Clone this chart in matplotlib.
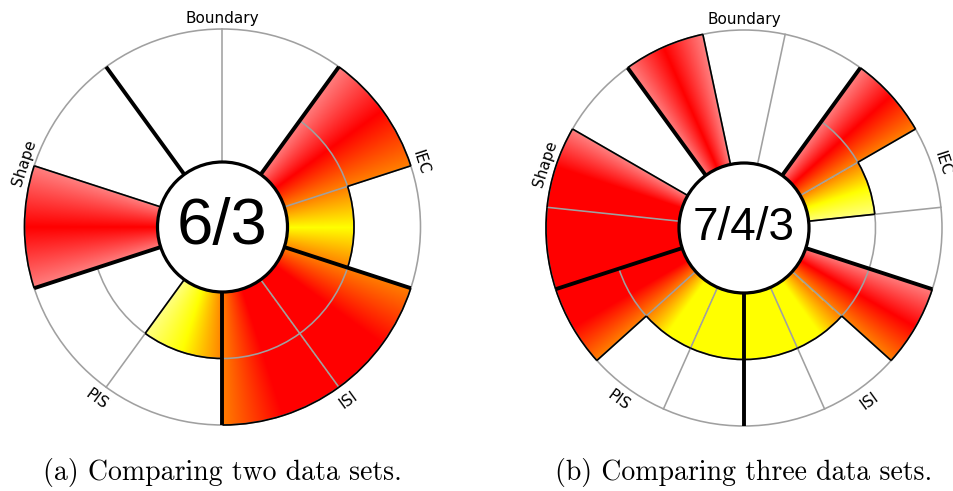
import numpy as np
import matplotlib
matplotlib.use("Agg")
import matplotlib.pyplot as plt
from matplotlib.patches import Wedge, Arc, Circle

# categories clockwise from the top, and how many levels each one has
categories = ["Boundary", "IEC", "ISI", "PIS", "Shape"]
max_levels = [1, 2, 2, 2, 1]

# one row per category, one entry per data set (clockwise inside the category)
two_sets = [[0, 0], [2, 1], [2, 2], [1, 0], [1, 0]]
three_sets = [[1, 0, 0], [2, 1, 0], [2, 1, 1], [1, 1, 2], [1, 1, 0]]

captions = ["(a) Comparing two data sets.", "(b) Comparing three data sets."]

R_HUB, R_OUT = 65, 198
GRID = "#a0a0a0"
RED = np.array([1.0, 0.0, 0.0])
YELLOW = np.array([1.0, 1.0, 0.0])
WHITE = np.array([1.0, 1.0, 1.0])


def fill_colour(v, m):
    if v == 0:
        return WHITE
    frac = v / m
    w = np.clip((frac - 0.5) / 0.5, 0, 1)
    return YELLOW * (1 - w) + RED * w


def radius(v, m):
    return R_HUB + (R_OUT - R_HUB) * v / m


def draw_rose(ax, cx, cy, values, hub_size):
    n_cat = len(categories)
    n_set = len(values[0])
    span = 360 / n_cat
    step = span / n_set

    wedges = []  # (theta_hi, theta_lo, value, max)
    for i, row in enumerate(values):
        start = 90 + span / 2 - i * span
        for j, v in enumerate(row):
            hi = start - j * step
            wedges.append((hi, hi - step, v, max_levels[i]))

    # gradient fills, blended towards the neighbouring sub-wedges at the edges
    nw = len(wedges)
    for k, (hi, lo, v, m) in enumerate(wedges):
        if v == 0:
            continue
        c = fill_colour(v, m)
        c_prev = fill_colour(*wedges[k - 1][2:])
        c_next = fill_colour(*wedges[(k + 1) % nw][2:])
        stops = np.array([(c + c_prev) / 2, c, (c + c_next) / 2])
        r = radius(v, m)
        n = int(2 * r) + 2
        xs = np.linspace(cx - r, cx + r, n)
        ys = np.linspace(cy - r, cy + r, n)
        X, Y = np.meshgrid(xs, ys)
        ang = np.degrees(np.arctan2(Y - cy, X - cx))
        t = np.clip(((hi - ang) % 360) / step, 0, 1)
        img = np.dstack([np.interp(t, [0, 0.5, 1], stops[:, ch]) for ch in range(3)])
        patch = Wedge((cx, cy), r, lo, hi, fc="none", ec="none")
        ax.add_patch(patch)
        im = ax.imshow(img, extent=[cx - r, cx + r, cy - r, cy + r], origin="lower",
                       interpolation="bilinear", zorder=1)
        im.set_clip_path(patch)

    # grey grid: outer ring, inner level rings, sub-wedge spokes
    ax.add_patch(Circle((cx, cy), R_OUT, fill=False, ec=GRID, lw=1.15, zorder=2))
    for i, m in enumerate(max_levels):
        hi = 90 + span / 2 - i * span
        for k in range(1, m):
            r = radius(k, m)
            ax.add_patch(Arc((cx, cy), 2 * r, 2 * r, theta1=hi - span, theta2=hi,
                             ec=GRID, lw=1.15, zorder=2))
        for j in range(1, n_set):
            a = np.radians(hi - j * step)
            ax.plot([cx + R_HUB * np.cos(a), cx + R_OUT * np.cos(a)],
                    [cy + R_HUB * np.sin(a), cy + R_OUT * np.sin(a)],
                    color=GRID, lw=1.15, zorder=2)

    # thin black outlines of the filled area
    for k, (hi, lo, v, m) in enumerate(wedges):
        r = radius(v, m)
        if v > 0:
            ax.add_patch(Arc((cx, cy), 2 * r, 2 * r, theta1=lo, theta2=hi,
                             ec="black", lw=1.2, zorder=3))
        nxt = wedges[(k + 1) % nw]
        r2 = radius(nxt[2], nxt[3])
        if r2 != r:
            a = np.radians(lo)
            r_a, r_b = min(r, r2), max(r, r2)
            ax.plot([cx + r_a * np.cos(a), cx + r_b * np.cos(a)],
                    [cy + r_a * np.sin(a), cy + r_b * np.sin(a)],
                    color="black", lw=1.2, zorder=3, solid_capstyle="butt")

    # thick category separators and labels
    for i, name in enumerate(categories):
        a = np.radians(90 + span / 2 - i * span)
        ax.plot([cx + R_HUB * np.cos(a), cx + R_OUT * np.cos(a)],
                [cy + R_HUB * np.sin(a), cy + R_OUT * np.sin(a)],
                color="black", lw=2.8, zorder=4, solid_capstyle="butt")
        mid = 90 - i * span
        am = np.radians(mid)
        if np.sin(am) > -0.01:
            rot, va, rl = mid - 90, "baseline", 204
        else:
            rot, va, rl = mid + 90, "top", 206
        ax.text(cx + rl * np.cos(am), cy + rl * np.sin(am), name, rotation=rot,
                rotation_mode="anchor", ha="center", va=va, fontsize=11,
                family="DejaVu Sans", zorder=6)

    # hub with the per-data-set totals
    ax.add_patch(Circle((cx, cy), R_HUB, fc="white", ec="black", lw=2.3, zorder=5))
    totals = np.sum(values, axis=0)
    ax.text(cx, cy, "/".join(str(t) for t in totals), ha="center", va="center",
            fontsize=hub_size, family="Liberation Sans", zorder=6)


fig = plt.figure(figsize=(9.54, 4.91), dpi=100)
ax = fig.add_axes([0, 0, 1, 1])

draw_rose(ax, 222.5, 491 - 227, two_sets, 47)
draw_rose(ax, 744, 491 - 228, three_sets, 33)

ax.text(222.5, 11, captions[0], ha="center", va="baseline", fontsize=20, family="cmr10")
ax.text(744, 11, captions[1], ha="center", va="baseline", fontsize=20, family="cmr10")

ax.set_xlim(0, 954)
ax.set_ylim(0, 491)
ax.set_aspect("auto")
ax.axis("off")
fig.savefig("out.png", dpi=100)
